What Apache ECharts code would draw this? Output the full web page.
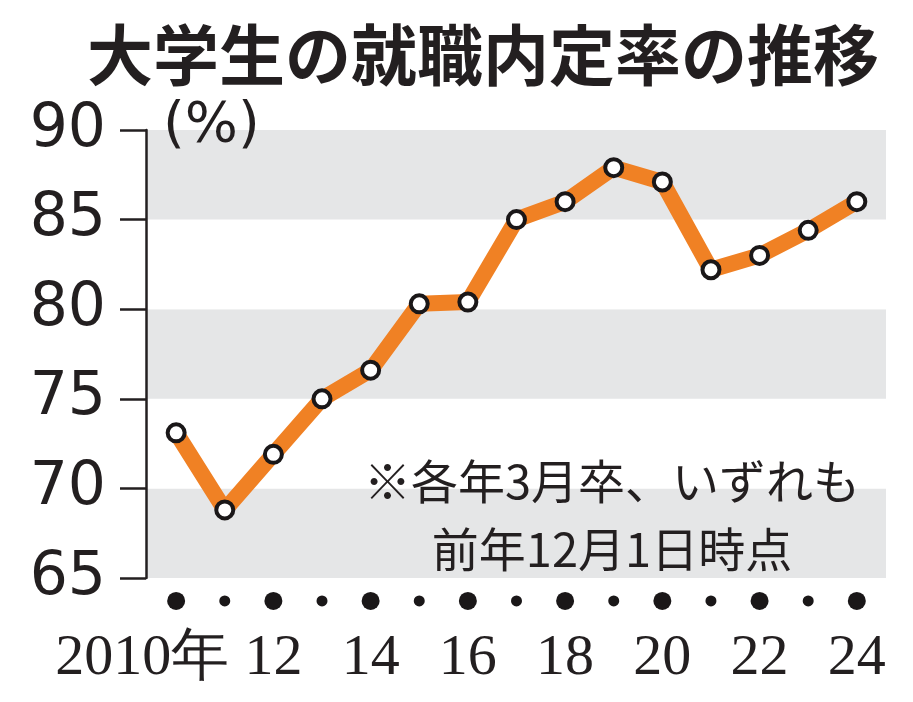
<!DOCTYPE html>
<html>
<head>
<meta charset="utf-8">
<script src="https://cdn.jsdelivr.net/npm/echarts@6/dist/echarts.min.js"></script>
<style>
  html, body { margin: 0; padding: 0; background: #fff; }
  #char { width: 913px; height: 702px; }
</style>
</head>
<body>
<div id="char"></div>
<script>
// 卒業年（3月卒）
const years = [2010, 2011, 2012, 2013, 2014, 2015, 2016, 2017, 2018, 2019, 2020, 2021, 2022, 2023, 2024]
// 就職内定率（前年12月1日時点, %）
const rates = [73.1, 68.8, 71.9, 75.0, 76.6, 80.3, 80.4, 85.0, 86.0, 87.9, 87.1, 82.2, 83.0, 84.4, 86.0]
const labelYears = [2010, 2012, 2014, 2016, 2018, 2020, 2022, 2024]
const titleText = '大学生の就職内定率の推移'
const unitText = '(%)'
const noteLines = ['※各年3月卒、いずれも', '前年12月1日時点']

const barEchart = echarts.init(document.getElementById('char'))

const lineData = years.map((y, i) => [y, rates[i]])
// 軸の下の丸（偶数年は大、奇数年は小）
const dotData = years.map(y => [y, 63.72])

const option = {
  backgroundColor: '#fff',
  animation: false,
  title: {
    text: titleText,
    left: 82,
    top: 17,
    textStyle: {
      fontFamily: 'Noto Sans CJK JP',
      fontWeight: 'bold',
      fontSize: 66,
      color: '#231f20'
    }
  },
  grid: {
    left: 146,
    right: 27,
    top: 130,
    bottom: 124
  },
  xAxis: {
    type: 'value',
    min: 2009.38,
    max: 2024.6,
    axisLine: { show: false },
    axisTick: { show: false },
    splitLine: { show: false },
    axisLabel: {
      customValues: labelYears,
      margin: 52,
      color: '#231f20',
      fontFamily: 'Liberation Serif',
      fontSize: 58,
      formatter: function (v) {
        if (v === 2010) return '{a|2010年}'
        return String(v % 100)
      },
      rich: {
        a: {
          fontFamily: 'Liberation Serif',
          fontSize: 58,
          color: '#231f20',
          padding: [0, 68, 0, 0]
        }
      }
    }
  },
  yAxis: {
    type: 'value',
    min: 65,
    max: 90,
    interval: 5,
    axisLine: { show: true, lineStyle: { color: '#231f20', width: 2.5 } },
    axisTick: { show: true, length: 26, lineStyle: { color: '#231f20', width: 2.5 } },
    splitLine: { show: false },
    splitArea: {
      show: true,
      areaStyle: { color: ['#e5e6e7', '#ffffff'] }
    },
    axisLabel: {
      margin: 40,
      color: '#231f20',
      fontFamily: 'DejaVu Sans',
      fontSize: 60
    }
  },
  graphic: [
    {
      type: 'text',
      z: 100,
      x: 163,
      y: 98,
      style: {
        text: unitText,
        fontFamily: 'DejaVu Sans',
        fontSize: 56,
        fill: '#231f20'
      }
    },
    {
      type: 'text',
      z: 100,
      x: 612,
      y: 447,
      style: {
        text: noteLines.join('\n'),
        align: 'center',
        verticalAlign: 'top',
        fontFamily: 'Noto Sans CJK JP',
        fontSize: 47,
        lineHeight: 68,
        fill: '#231f20'
      }
    }
  ],
  series: [
    {
      type: 'line',
      data: lineData,
      symbol: 'circle',
      symbolSize: 17,
      z: 3,
      lineStyle: { color: '#f08124', width: 16, join: 'round' },
      itemStyle: { color: '#ffffff', borderColor: '#1a1718', borderWidth: 4 }
    },
    {
      type: 'scatter',
      data: dotData,
      clip: false,
      silent: true,
      symbol: 'circle',
      symbolSize: function (val) {
        return val[0] % 2 === 0 ? 18 : 11
      },
      itemStyle: { color: '#1a1718', opacity: 1 }
    }
  ]
}

barEchart.setOption(option)
window.addEventListener('resize', () => barEchart.resize())
</script>
</body>
</html>
